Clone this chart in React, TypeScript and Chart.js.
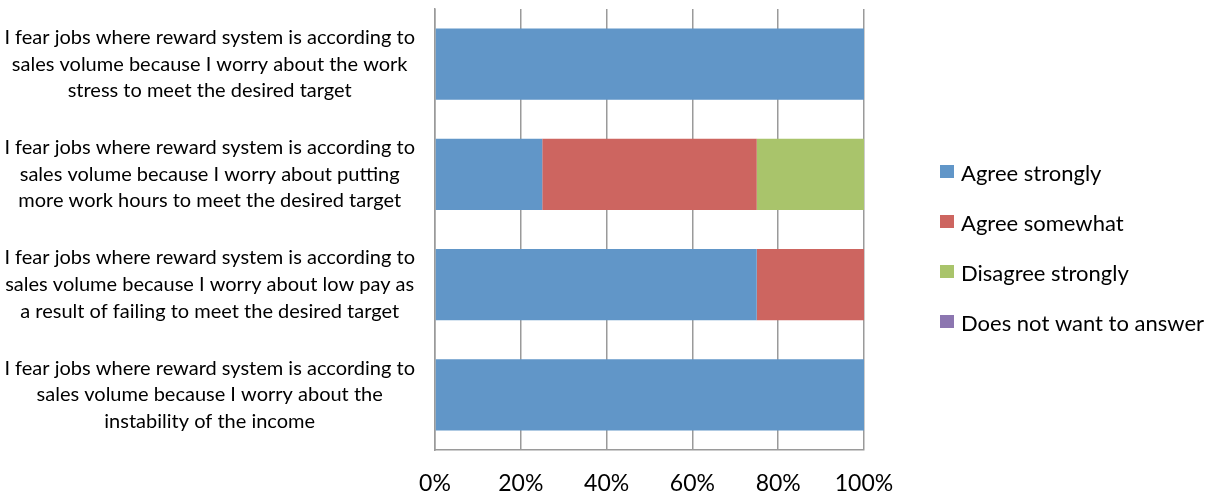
import React, { useEffect, useRef } from "react";
import { Chart, registerables } from "chart.js";

Chart.register(...registerables);

const categories: string[][] = [
  ["I fear jobs where reward system is according to", "sales volume because I worry about the work", "stress to meet the desired target"],
  ["I fear jobs where reward system is according to", "sales volume because I worry about putting", "more work hours to meet the desired target"],
  ["I fear jobs where reward system is according to", "sales volume because I worry about low pay as", "a result of failing to meet the desired target"],
  ["I fear jobs where reward system is according to", "sales volume because I worry about the", "instability of the income"],
];

const seriesNames = ["Agree strongly", "Agree somewhat", "Disagree strongly", "Does not want to answer"];
const agreeStrongly = [100, 25, 75, 100];
const agreeSomewhat = [0, 50, 25, 0];
const disagreeStrongly = [0, 25, 0, 0];
const noAnswer = [0, 0, 0, 0];
const seriesColors = ["#6196C8", "#CD6560", "#A9C46B", "#8C76B0"];
const xTicks = [0, 20, 40, 60, 80, 100];

const FONT = "Lato";

const legendPlugin = {
  id: "customLegend",
  afterDraw(chart: any) {
    const ctx = chart.ctx;
    const area = chart.chartArea;
    ctx.save();
    chart.data.datasets.forEach((ds: any, i: number) => {
      const cy = area.top + 162.5 + 50 * i;
      const bx = area.right + 76;
      ctx.fillStyle = ds.backgroundColor;
      ctx.fillRect(bx, cy - 6.5, 14, 13);
      ctx.fillStyle = "#000";
      ctx.font = `22px ${FONT}`;
      ctx.textAlign = "left";
      ctx.textBaseline = "middle";
      ctx.fillText(ds.label, bx + 21, cy + 2);
    });
    ctx.restore();
  },
};

export default function App() {
  const ref = useRef<HTMLCanvasElement>(null);
  useEffect(() => {
    document.body.style.margin = "0";
    const values = [agreeStrongly, agreeSomewhat, disagreeStrongly, noAnswer];
    const chart = new Chart(ref.current!, {
      type: "bar",
      data: {
        labels: categories,
        datasets: seriesNames.map((name, i) => ({
          label: name,
          data: values[i],
          backgroundColor: seriesColors[i],
          borderWidth: 0,
          categoryPercentage: 1,
          barPercentage: 0.645,
        })),
      },
      options: {
        indexAxis: "y",
        responsive: false,
        animation: false,
        devicePixelRatio: 1,
        layout: { padding: { left: 0, right: 350, top: 9, bottom: 0 } },
        plugins: {
          legend: { display: false },
          tooltip: { enabled: false },
        },
        scales: {
          x: {
            stacked: true,
            min: 0,
            max: 100,
            afterBuildTicks: (scale: any) => {
              scale.ticks = xTicks.map((v) => ({ value: v }));
            },
            afterFit: (scale: any) => {
              scale.height = 48;
            },
            ticks: {
              callback: (v: any) => `${v}%`,
              font: { family: FONT, size: 23 },
              color: "#000",
              padding: 20,
              maxRotation: 0,
            },
            grid: { color: "#9A9A9A", lineWidth: 1.5, drawTicks: false },
            border: { color: "#9A9A9A", width: 1.5 },
          },
          y: {
            stacked: true,
            afterFit: (scale: any) => {
              scale.width = 435;
              scale.paddingTop = 0;
              scale.paddingBottom = 0;
            },
            ticks: {
              font: { family: FONT, size: 20, lineHeight: 1.33 },
              color: "#000",
              padding: 20,
              crossAlign: "center",
              autoSkip: false,
            },
            grid: { display: false, drawTicks: false },
            border: { color: "#9A9A9A", width: 1.5 },
          },
        },
      },
      plugins: [legendPlugin],
    });
    return () => chart.destroy();
  }, []);
  return <canvas ref={ref} width={1214} height={498} style={{ display: "block" }} />;
}
